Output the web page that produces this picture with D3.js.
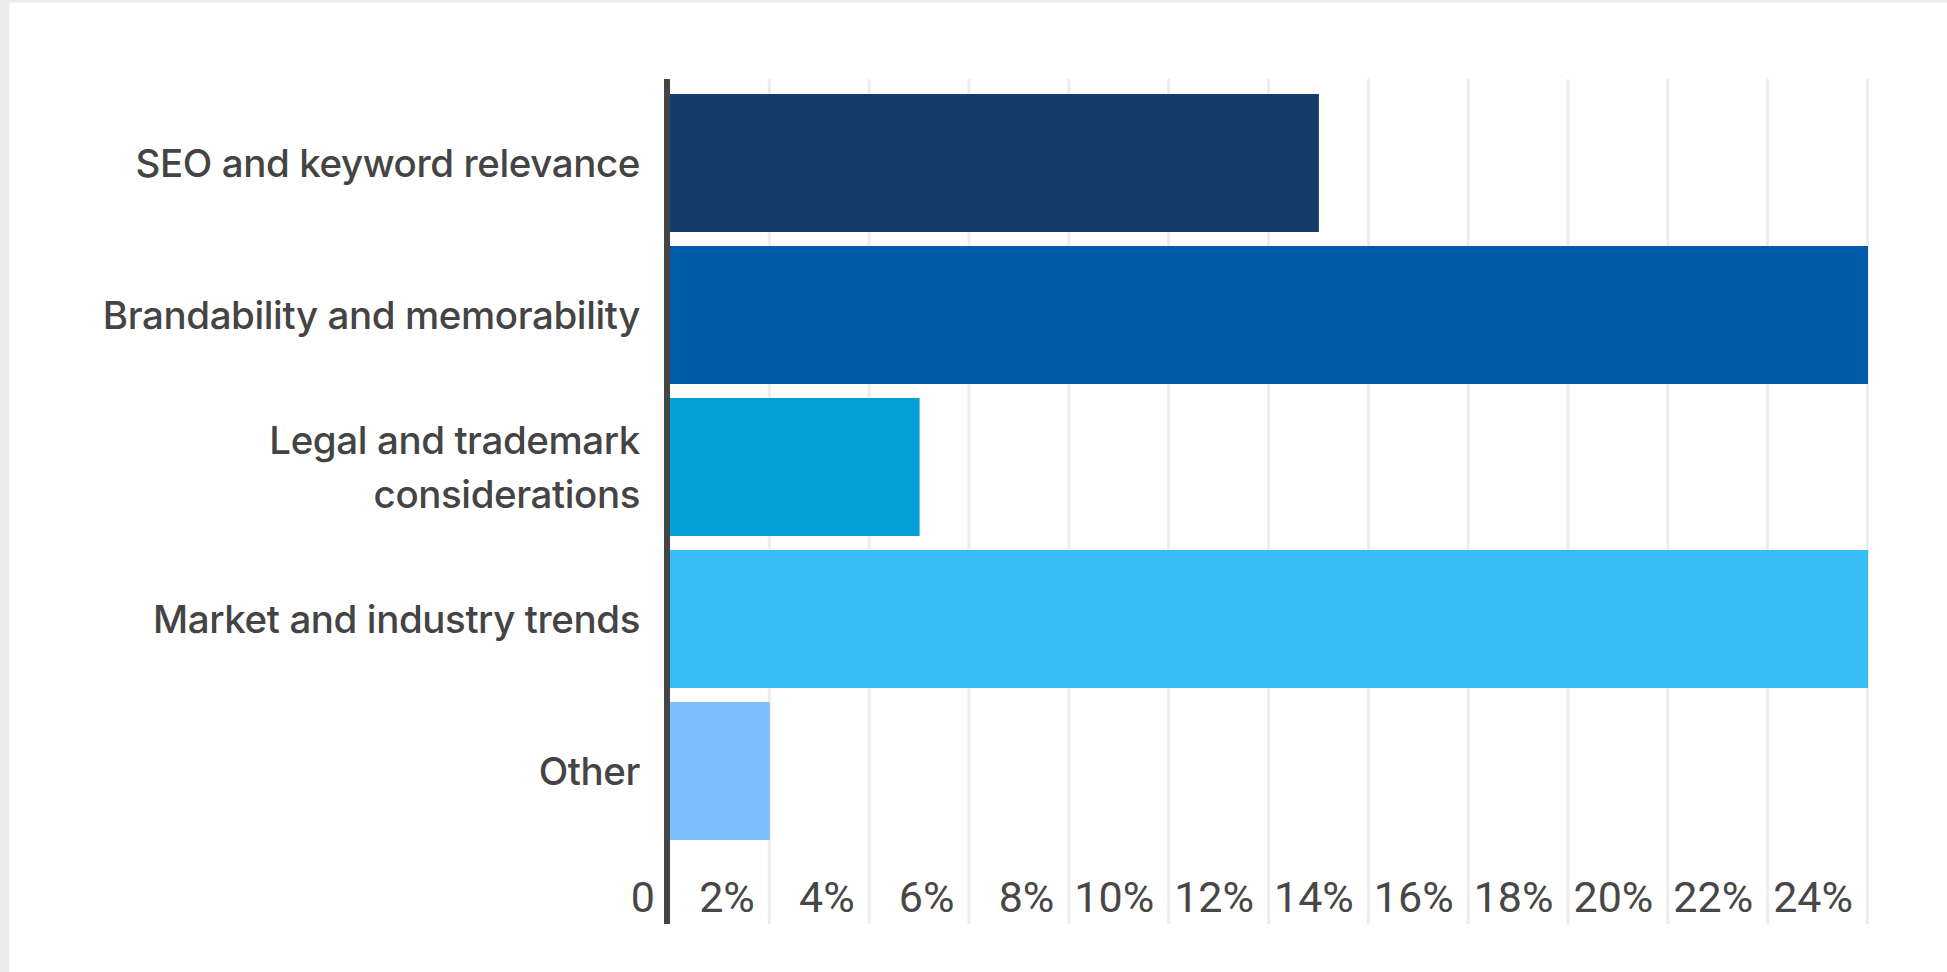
<!DOCTYPE html>
<html>
<head>
<meta charset="utf-8">
<script src="https://cdn.jsdelivr.net/npm/d3@7"></script>
<style>
  html, body { margin: 0; padding: 0; background: #ececec; overflow: hidden; }
  svg { display: block; }
</style>
</head>
<body>
<svg id="chart" width="1947" height="972"></svg>
<script>
// ---- data ----
const categories = [
  ["SEO and keyword relevance"],
  ["Brandability and memorability"],
  ["Legal and trademark", "considerations"],
  ["Market and industry trends"],
  ["Other"]
];
const values = [13, 24, 5, 24, 2];
const barColors = ["#163c6c", "#005ca9", "#05a0da", "#37bef5", "#7cc1fd"];
const tickValues = [0, 2, 4, 6, 8, 10, 12, 14, 16, 18, 20, 22, 24];
const tickLabels = ["0", "2%", "4%", "6%", "8%", "10%", "12%", "14%", "16%", "18%", "20%", "22%", "24%"];

const W = 1947, H = 972;
const svg = d3.select("#chart");

// card background
svg.append("rect").attr("x", 0).attr("y", 0).attr("width", W).attr("height", H).attr("fill", "#ececec");
svg.append("rect").attr("x", 9.5).attr("y", 2.5).attr("width", W).attr("height", H).attr("fill", "#ffffff");

const x = d3.scaleLinear().domain([0, 24]).range([669.5, 1867.5]);
const keys = categories.map((c, i) => i);
const y = d3.scaleBand().domain(keys).range([87, 847]).paddingInner(14 / 152).paddingOuter(7 / 152);

const gridTop = 79, gridBottom = 924;

// gridlines
svg.append("g").selectAll("line")
  .data(tickValues.filter(v => v > 0))
  .join("line")
  .attr("x1", d => x(d)).attr("x2", d => x(d))
  .attr("y1", gridTop).attr("y2", gridBottom)
  .attr("stroke", "#ededed").attr("stroke-width", 3);

// bars
svg.append("g").selectAll("rect")
  .data(values)
  .join("rect")
  .attr("x", x(0) + 0.5)
  .attr("y", (d, i) => y(i))
  .attr("width", d => Math.max(0, x(d) - x(0)))
  .attr("height", y.bandwidth())
  .attr("fill", (d, i) => barColors[i]);

// axis line
svg.append("line")
  .attr("x1", 667).attr("x2", 667)
  .attr("y1", gridTop).attr("y2", gridBottom)
  .attr("stroke", "#454545").attr("stroke-width", 6);

// category labels
const catFont = "Inter, 'Noto Sans', sans-serif";
const lineH = 54;
const labG = svg.append("g");
categories.forEach((lines, i) => {
  const cy = y(i) + y.bandwidth() / 2;
  const t = labG.append("text")
    .attr("text-anchor", "end")
    .attr("font-family", catFont)
    .attr("font-size", 38.5)
    .attr("font-weight", 500)
    .attr("letter-spacing", "-0.4px")
    .attr("fill", "#444444");
  lines.forEach((ln, j) => {
    const off = (j - (lines.length - 1) / 2) * lineH;
    t.append("tspan")
      .attr("x", 640)
      .attr("y", cy + off)
      .attr("dy", "0.36em")
      .text(ln);
  });
});

// tick labels
svg.append("g").selectAll("text")
  .data(tickValues)
  .join("text")
  .attr("x", d => x(d) - 14.5)
  .attr("y", 912)
  .attr("text-anchor", "end")
  .attr("font-family", "Roboto, 'DejaVu Sans', sans-serif")
  .attr("font-size", 43)
  .attr("fill", "#474747")
  .text((d, i) => tickLabels[i]);
</script>
</body>
</html>
